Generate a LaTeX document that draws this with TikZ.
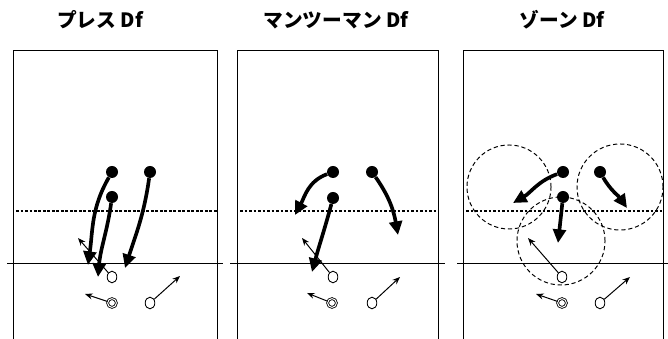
\documentclass[tikz,border=0pt]{standalone}
\usepackage{fontspec}
\newfontfamily\jpfont{Noto Sans CJK JP}
\usetikzlibrary{arrows.meta, shapes.geometric}
\tikzstyle{blk} = [circle, fill=black, inner sep=0pt, minimum size=3mm]
\tikzstyle{hit} = [ellipse, draw=black, line width=0.6pt, fill=white, inner sep=0pt, minimum width=2.4mm, minimum height=2.9mm]
\tikzstyle{setter} = [circle, draw=black, line width=0.6pt, double, double distance=0.7pt, fill=white, inner sep=0pt, minimum size=2.2mm]
\tikzstyle{blkarrow} = [line width=2.6pt, -{Triangle[length=3.4mm,width=3.2mm]}]
\tikzstyle{ballarrow} = [line width=0.7pt, -{Stealth[length=1.9mm,width=1.5mm]}]
\tikzstyle{zonering} = [circle, draw=black, line width=0.7pt, dash pattern=on 3pt off 2pt, inner sep=0pt]
\tikzstyle{court} = [line width=0.6pt]
\tikzstyle{net} = [line width=1.2pt]
\tikzstyle{attline} = [line width=0.9pt, dash pattern=on 2pt off 1.2pt]
\tikzstyle{title} = [font=\jpfont\bfseries\fontsize{14}{16}\selectfont]

\begin{document}
\begin{tikzpicture}[x=0.025cm, y=0.025cm]
\useasboundingbox (0,0) rectangle (668,339);

% titles
\node[title] (t1) at (100,319) {プレス Df};
\node[title] (t2) at (336,319) {マンツーマン Df};
\node[title] (t3) at (562,319) {ゾーン Df};

% courts
\draw[court] (13,0) |- (217,289) -- (217,0);
\draw[court] (237,0) |- (438,289) -- (438,0);
\draw[court] (463,0) |- (663,289) -- (663,0);
\draw[attline] (16,128) -- (217,128);
\draw[attline] (240,128) -- (438,128);
\draw[attline] (466,128) -- (663,128);
\draw[net] (7,75.5) -- (223,75.5);
\draw[net] (230,75.5) -- (445,75.5);
\draw[net] (457,75.5) -- (668,75.5);

% zone areas
\node[zonering, minimum size=2.1cm] (z1) at (509,152) {};
\node[zonering, minimum size=2.15cm] (z2) at (620,152) {};
\node[zonering, minimum size=2.2cm] (z3) at (561,98) {};

% press Df
\node (p1a) [blk] at (112,167) {};
\node (p1b) [blk] at (150,167) {};
\node (p1c) [blk] at (112,142) {};
\coordinate (p1ae) at (88,74);
\coordinate (p1be) at (125,71);
\coordinate (p1ce) at (98,62);
\node (p1h) [hit] at (112,62) {};
\node (p1s) [setter] at (112,36) {};
\node (p1r) [hit] at (150,36) {};
\coordinate (p1he) at (78,101);
\coordinate (p1se) at (85,45);
\coordinate (p1re) at (180,63);
\draw[ballarrow] (p1h) -- (p1he);
\draw[blkarrow] (p1a) to[out=-120,in=82] (p1ae);
\draw[blkarrow] (p1b) to[out=-98,in=72] (p1be);
\draw[blkarrow] (p1c) to[out=-98,in=85] (p1ce);
\draw[ballarrow] (p1s) -- (p1se);
\draw[ballarrow] (p1r) -- (p1re);

% man to man Df
\node (p2a) [blk] at (333,167) {};
\node (p2b) [blk] at (372,167) {};
\node (p2c) [blk] at (333,141) {};
\coordinate (p2ae) at (295,124);
\coordinate (p2be) at (398,104);
\coordinate (p2ce) at (312,67);
\node (p2h) [hit] at (333,62) {};
\node (p2s) [setter] at (332,36) {};
\node (p2r) [hit] at (372,36) {};
\coordinate (p2he) at (302,101);
\coordinate (p2se) at (307,46);
\coordinate (p2re) at (400,62);
\draw[ballarrow] (p2h) -- (p2he);
\draw[blkarrow] (p2a) to[out=200,in=62] (p2ae);
\draw[blkarrow] (p2b) to[out=-55,in=100] (p2be);
\draw[blkarrow] (p2c) to[out=-105,in=75] (p2ce);
\draw[ballarrow] (p2s) -- (p2se);
\draw[ballarrow] (p2r) -- (p2re);

% zone Df
\node (p3a) [blk] at (563,167) {};
\node (p3b) [blk] at (600,167) {};
\node (p3c) [blk] at (563,142) {};
\coordinate (p3ae) at (513,136);
\coordinate (p3be) at (627,131);
\coordinate (p3ce) at (558,96);
\node (p3h) [hit] at (562,62) {};
\node (p3s) [setter] at (562,36) {};
\node (p3r) [hit] at (600,36) {};
\coordinate (p3he) at (528,101);
\coordinate (p3se) at (536,45);
\coordinate (p3re) at (630,62);
\draw[ballarrow] (p3h) -- (p3he);
\draw[blkarrow] (p3a) to[out=200,in=30] (p3ae);
\draw[blkarrow] (p3b) to[out=-60,in=125] (p3be);
\draw[blkarrow] (p3c) -- (p3ce);
\draw[ballarrow] (p3s) -- (p3se);
\draw[ballarrow] (p3r) -- (p3re);

\end{tikzpicture}
\end{document}
